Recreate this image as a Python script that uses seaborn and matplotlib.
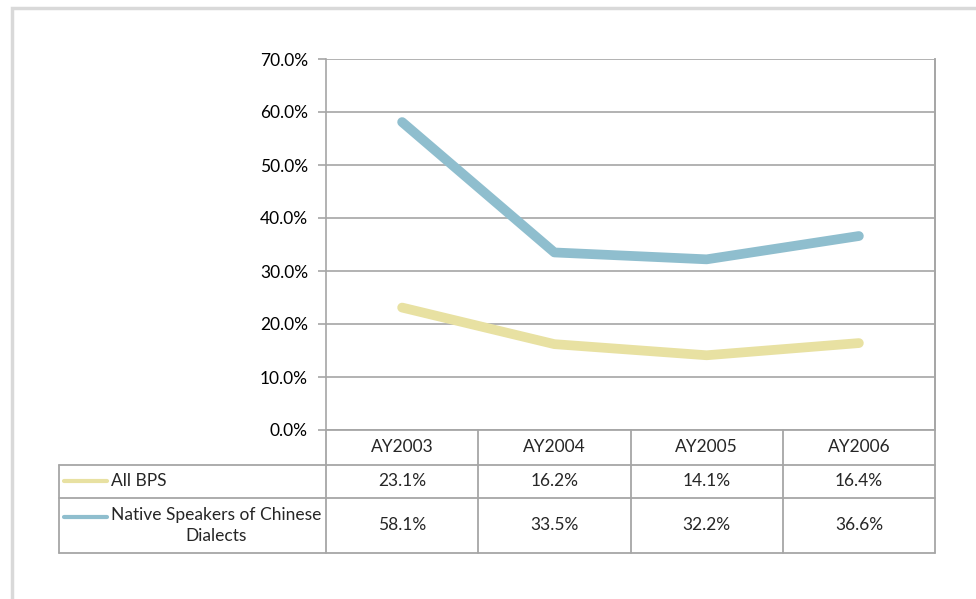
import pandas as pd
import matplotlib.pyplot as plt
import matplotlib.ticker as mtick
import matplotlib.transforms as mtrans
from matplotlib.patches import Rectangle
import seaborn as sns

years   = ["AY2003", "AY2004", "AY2005", "AY2006"]
series  = ["All BPS", "Native Speakers of Chinese\nDialects"]
all_bps = [23.1, 16.2, 14.1, 16.4]
native  = [58.1, 33.5, 32.2, 36.6]
yticks  = [0, 10, 20, 30, 40, 50, 60, 70]

COLORS = ["#E8E1A2", "#8FBECE"]
GRID   = "#A6A6A6"
FS     = 12.5

sns.set_theme(style="white")
plt.rcParams["font.family"] = ["Lato", "DejaVu Sans"]
plt.rcParams["font.size"] = FS

df = pd.DataFrame({
    "pos":    list(range(len(years))) * 2,
    "value":  all_bps + native,
    "series": [series[0]] * len(years) + [series[1]] * len(years),
})

fig = plt.figure(figsize=(9.76, 5.99), dpi=100)
W, H = 976, 599

# outer chart border (only top and left visible)
fig.patches.append(Rectangle((12 / W, -0.1), 2, (599 - 8) / H + 0.1,
                             transform=fig.transFigure, fill=False,
                             edgecolor="#D9D9D9", linewidth=2.5))

ax = fig.add_axes([326 / W, 1 - 430 / H, 609 / W, 371 / H])
sns.lineplot(data=df, x="pos", y="value", hue="series", palette=COLORS,
             linewidth=7, solid_capstyle="round", solid_joinstyle="round",
             legend=False, ax=ax)

ax.set_xlim(-0.5, len(years) - 0.5)
ax.set_ylim(0, 70)
ax.set_yticks(yticks)
ax.yaxis.set_major_formatter(mtick.FuncFormatter(lambda v, _: f"{v:.1f}%"))
ax.set_xticks([])
ax.set_xlabel("")
ax.set_ylabel("")
ax.grid(axis="y", color=GRID, linewidth=1.2)
ax.set_axisbelow(True)
for s in ax.spines.values():
    s.set_color(GRID)
    s.set_linewidth(1.2)
ax.spines["bottom"].set_visible(False)
ax.spines["top"].set_visible(False)
ax.tick_params(axis="y", left=True, length=6, width=1.2, color=GRID,
               pad=7, labelsize=FS, labelcolor="black")

# data table beneath the plot
tr = mtrans.blended_transform_factory(ax.transData, ax.transAxes)
def yf(py):
    return (430 - py) / 371

xl = -0.5 + (59 - 326) / (609 / 4)
rows = [yf(430), yf(465), yf(498), yf(553)]
line_kw = dict(color=GRID, linewidth=1.3, transform=tr, clip_on=False)

ax.plot([-0.5, 3.5], [rows[0], rows[0]], **line_kw)
for r in rows[1:]:
    ax.plot([xl, 3.5], [r, r], **line_kw)
for xv in [-0.5, 0.5, 1.5, 2.5]:
    ax.plot([xv, xv], [rows[0], rows[3]], **line_kw)
ax.plot([3.5, 3.5], [1, rows[3]], **line_kw)
ax.plot([xl, xl], [rows[1], rows[3]], **line_kw)

for i, yr in enumerate(years):
    ax.text(i, (rows[0] + rows[1]) / 2, yr, transform=tr, ha="center",
            va="center", fontsize=FS)

row_vals = [all_bps, native]
for j, (name, vals) in enumerate(zip(series, row_vals)):
    ymid = (rows[j + 1] + rows[j + 2]) / 2
    for i, v in enumerate(vals):
        ax.text(i, ymid, f"{v:.1f}%", transform=tr, ha="center",
                va="center", fontsize=FS)
    sample_y = yf(481) if j == 0 else yf(517)
    ax.plot([xl + 5 / 152.25, xl + 48 / 152.25], [sample_y, sample_y],
            color=COLORS[j], linewidth=3, solid_capstyle="round",
            transform=tr, clip_on=False)
    ax.text(xl + 52 / 152.25, ymid, name, transform=tr, ha="left",
            va="center", multialignment="center",
            fontsize=FS, linespacing=1.45)

fig.savefig("out.png", dpi=100)
